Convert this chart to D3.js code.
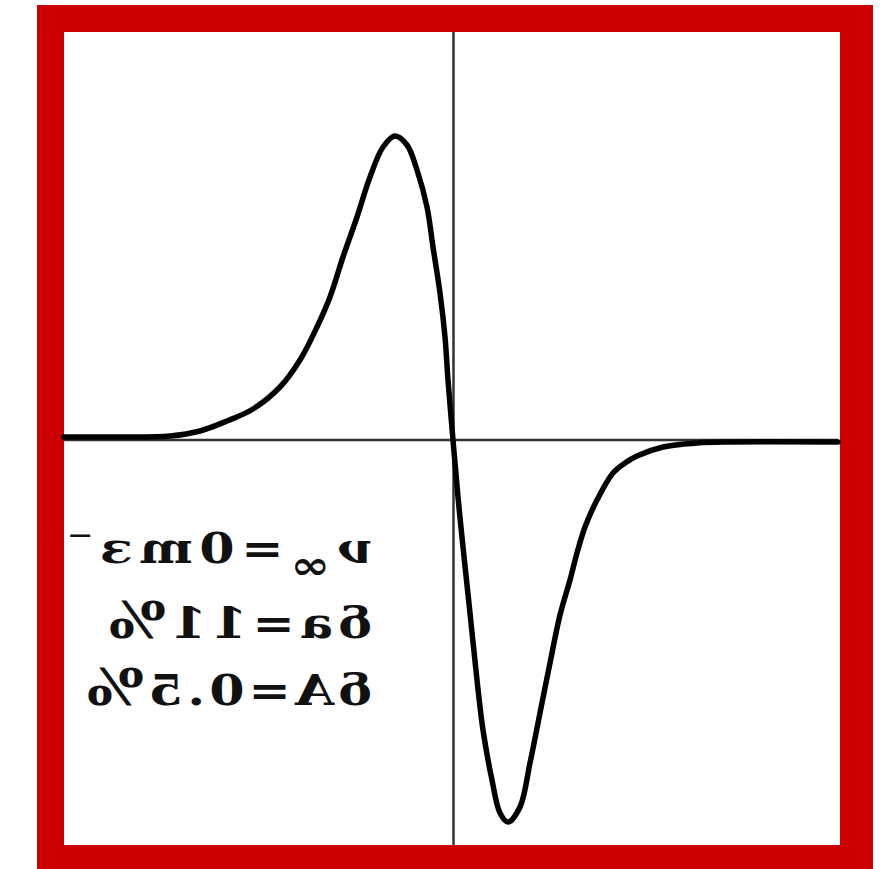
<!DOCTYPE html>
<html>
<head>
<meta charset="utf-8">
<script src="https://cdn.jsdelivr.net/npm/d3@7"></script>
<style>
  html, body { margin: 0; padding: 0; background: #ffffff; }
  svg { display: block; }
</style>
</head>
<body>
<svg id="chart" width="892" height="869"></svg>
<script>
// Line-shape signal: field offset (x) against signal amplitude (y)
const fieldOffset = [
  -3.89, -3.33, -2.83, -2.53, -2.26, -2.00, -1.73, -1.53, -1.36, -1.23,
  -1.10, -0.96, -0.83, -0.70, -0.58, -0.46, -0.36, -0.26, -0.20, -0.13,
  -0.08, -0.05, 0.00, 0.05, 0.10, 0.17, 0.24, 0.30, 0.39, 0.47,
  0.55, 0.67, 0.77, 0.87, 0.97, 1.07, 1.17, 1.24, 1.32, 1.44,
  1.60, 1.72, 1.84, 2.10, 2.44, 2.77, 3.85
];
const signal = [
  0.03, 0.03, 0.04, 0.09, 0.19, 0.31, 0.53, 0.80, 1.13, 1.43,
  1.83, 2.23, 2.63, 2.93, 3.04, 2.95, 2.70, 2.33, 1.93, 1.47,
  1.03, 0.60, 0.00, -0.57, -1.07, -1.73, -2.40, -2.90, -3.40, -3.73,
  -3.82, -3.67, -3.23, -2.73, -2.23, -1.75, -1.40, -1.13, -0.87, -0.60,
  -0.33, -0.23, -0.16, -0.07, -0.03, -0.02, -0.02
];
const xDomain = [-3.89, 3.87];
const yDomain = [-4.05, 4.08];

// Parameter annotation lines (drawn mirrored): [text, dy, font-size]
const paramLines = [
  { parts: [["ν", 0, null], ["∞", 16, 40], ["=0mз", -16, null], ["⁻", -6, null]], len: 305 },
  { parts: [["δa=11", 0, null], ["%", 0, 50]], len: 263 },
  { parts: [["δA=0.5", 0, null], ["%", 0, 50]], len: 285 }
];

const svg = d3.select("#chart");

// Red frame with white plotting panel
const frame = { x0: 37, y0: 5, x1: 873, y1: 900 };
const panel = { x0: 64, y0: 32, x1: 840, y1: 845 };

svg.append("rect")
  .attr("x", frame.x0).attr("y", frame.y0)
  .attr("width", frame.x1 - frame.x0).attr("height", frame.y1 - frame.y0)
  .attr("fill", "#cc0000");

svg.append("rect")
  .attr("x", panel.x0).attr("y", panel.y0)
  .attr("width", panel.x1 - panel.x0).attr("height", panel.y1 - panel.y0)
  .attr("fill", "#ffffff");

const x = d3.scaleLinear().domain(xDomain).range([panel.x0, panel.x1]);
const y = d3.scaleLinear().domain(yDomain).range([panel.y1, panel.y0]);

// Zero axes
svg.append("line")
  .attr("x1", x(xDomain[0])).attr("x2", x(xDomain[1]) - 2)
  .attr("y1", y(0)).attr("y2", y(0))
  .attr("stroke", "#333").attr("stroke-width", 2.5);

svg.append("line")
  .attr("x1", x(0) + 0.5).attr("x2", x(0) + 0.5)
  .attr("y1", y(yDomain[1])).attr("y2", y(yDomain[0]))
  .attr("stroke", "#333").attr("stroke-width", 2.5);

// Signal curve
const pts = fieldOffset.map((v, i) => [v, signal[i]]);
const line = d3.line()
  .x(d => x(d[0]))
  .y(d => y(d[1]))
  .curve(d3.curveCatmullRom.alpha(0.5));

svg.append("path")
  .datum(pts)
  .attr("d", line)
  .attr("fill", "none")
  .attr("stroke", "#000")
  .attr("stroke-width", 5.5)
  .attr("stroke-linejoin", "round")
  .attr("stroke-linecap", "round");

// Mirrored parameter text block (slightly widened glyphs)
const stretch = 1.2;
const textBlock = svg.append("g")
  .attr("transform", `translate(372,0) scale(${-stretch},1)`);

const baselines = [563, 638, 705];
paramLines.forEach((ln, i) => {
  const t = textBlock.append("text")
    .attr("x", 0)
    .attr("y", baselines[i])
    .attr("font-family", "'DejaVu Serif', serif")
    .attr("font-weight", "bold")
    .attr("font-size", 42)
    .attr("fill", "#111")
    .attr("textLength", ln.len / stretch)
    .attr("lengthAdjust", "spacing");
  ln.parts.forEach(([s, dy, fs]) => {
    const ts = t.append("tspan").text(s);
    if (dy) ts.attr("dy", dy);
    if (fs) ts.attr("font-size", fs);
  });
});
</script>
</body>
</html>
